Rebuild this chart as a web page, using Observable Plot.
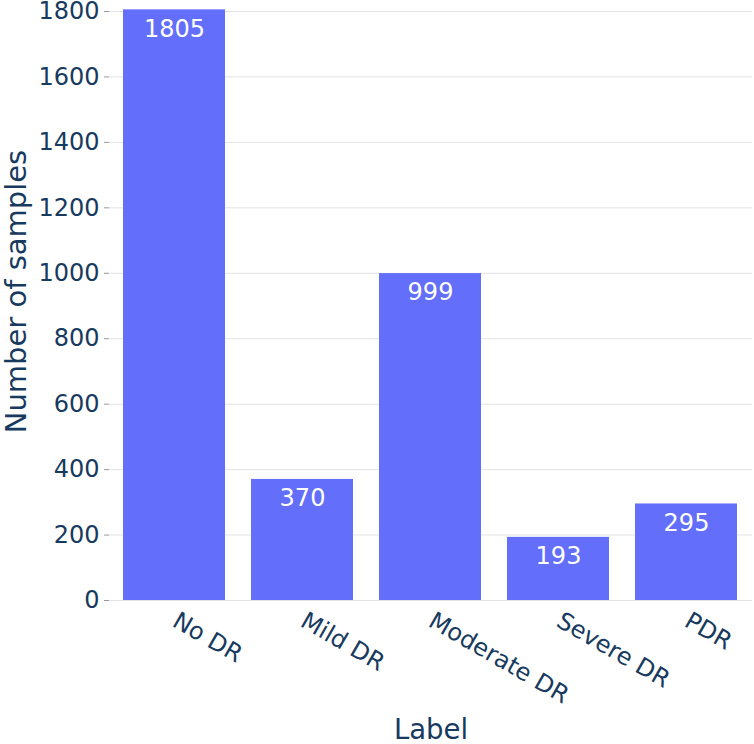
<!DOCTYPE html>
<html>
<head>
<meta charset="utf-8">
<script src="https://cdn.jsdelivr.net/npm/d3@7"></script>
<script src="https://cdn.jsdelivr.net/npm/@observablehq/plot@0.6"></script>
<style>
  html, body { margin: 0; padding: 0; background: #fff; }
  #chart svg { display: block; }
</style>
</head>
<body>
<div id="chart"></div>
<script>
const categories = ["No DR", "Mild DR", "Moderate DR", "Severe DR", "PDR"];
const counts = [1805, 370, 999, 193, 295];
const yTicks = [0, 200, 400, 600, 800, 1000, 1200, 1400, 1600, 1800];
const xTitle = "Label";
const yTitle = "Number of samples";

const data = categories.map((c, i) => ({label: c, count: counts[i]}));

const textColor = "#173a5e";
const barColor = "#636efa";
const font = "'DejaVu Sans', Verdana, sans-serif";

const chart = Plot.plot({
  width: 754,
  height: 744,
  marginLeft: 109,
  marginRight: 2,
  marginTop: 11,
  marginBottom: 144,
  style: {fontFamily: font, background: "#fff", overflow: "visible"},
  x: {domain: categories, paddingInner: 0.2, paddingOuter: 0.1, label: null, axis: null},
  y: {domain: [0, 1800], label: null},
  marks: [
    Plot.gridY(yTicks, {stroke: "#e3e3e3", strokeOpacity: 1, strokeWidth: 1}),
    Plot.barY(data, {x: "label", y: "count", fill: barColor}),
    Plot.text(data, {
      x: "label", y: "count", text: d => String(d.count),
      fill: "#fff", fontSize: 24, dy: 19, lineAnchor: "middle"
    }),
    Plot.axisY(yTicks, {
      tickSize: 5, tickPadding: 5, stroke: "#999", fill: textColor,
      fontSize: 24, label: null, tickFormat: d => String(d)
    }),
    Plot.text(categories, {
      x: d => d, text: d => d, frameAnchor: "bottom", rotate: 30,
      textAnchor: "start", lineAnchor: "bottom", dy: 25, dx: -3.5,
      fill: textColor, fontSize: 24
    }),
    Plot.text([yTitle], {
      frameAnchor: "left", text: d => d, rotate: -90, dx: -84, dy: -14.5,
      textAnchor: "middle", lineAnchor: "bottom",
      fill: textColor, fontSize: 29
    }),
    Plot.text([xTitle], {
      frameAnchor: "bottom", text: d => d, dy: 138, lineAnchor: "bottom",
      textAnchor: "middle", fill: textColor, fontSize: 27.5
    })
  ]
});
document.getElementById("chart").appendChild(chart);
</script>
</body>
</html>
